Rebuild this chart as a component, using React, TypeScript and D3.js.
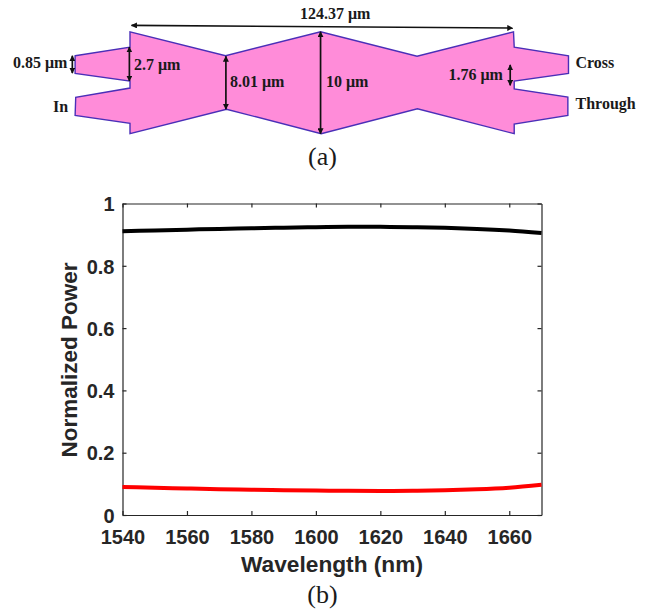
import React, { useEffect, useRef } from "react";
import * as d3 from "d3";

// spectrum
const wavelengths = [1540, 1550, 1560, 1570, 1580, 1590, 1600, 1610, 1620, 1630, 1640, 1650, 1660, 1670];
const crossPower = [0.911, 0.9135, 0.916, 0.9185, 0.9205, 0.9225, 0.924, 0.925, 0.925, 0.924, 0.922, 0.9185, 0.913, 0.905];
const throughPower = [0.09, 0.0875, 0.085, 0.083, 0.0812, 0.0797, 0.0785, 0.0775, 0.0772, 0.0778, 0.0795, 0.0825, 0.0875, 0.097];
const xTicks = [1540, 1560, 1580, 1600, 1620, 1640, 1660];
const yTicks = [0, 0.2, 0.4, 0.6, 0.8, 1];

// device outline for panel (a): [length um, schematic height]
const outline: [number, number][] = [
  [-17.8, -2.65], [0, -3.5], [0, -5], [31, -2.65], [61.8, -5], [93.1, -2.6], [124.37, -5],
  [124.6, -3.5], [142.2, -2.65], [142.2, -0.92], [124.6, -0.17], [124.6, 0.6], [142, 1.4],
  [142, 3.2], [124.6, 4.05], [124.6, 5], [93.2, 2.55], [62, 5], [31.3, 2.6], [0, 5], [0, 3.98],
  [-17.8, 3.2], [-17.6, 1.43], [0, 0.52], [0, -0.17], [-17.8, -0.92],
];
// [x1, y1, x2, y2] in the same units
const dimensions: [number, number, number, number][] = [
  [0.5, -5.63, 124.1, -5.37],
  [-18.7, -2.65, -18.7, -0.95],
  [-0.2, -3.5, -0.2, -0.17],
  [31.1, -2.6, 31.1, 2.6],
  [61.8, -5, 61.8, 5],
  [123.3, -1.75, 123.3, 0.25],
];
const deviceLabels: [string, number, number][] = [
  ["124.37 μm", 300, 19],
  ["0.85 μm", 13, 68],
  ["2.7 μm", 134, 70],
  ["8.01 μm", 230, 87],
  ["10 μm", 326, 87],
  ["1.76 μm", 448.5, 80],
  ["In", 53, 112],
  ["Cross", 575.5, 68],
  ["Through", 575.5, 109],
];

const width = 649,
  height = 609;
const plot = { left: 122.5, right: 541.5, top: 203.5, bottom: 515 };

export default function App() {
  const svgRef = useRef<SVGSVGElement>(null);

  useEffect(() => {
    const svg = d3.select(svgRef.current);
    svg.selectAll("*").remove();

    // panel (a)
    const ux = d3.scaleLinear().domain([0, 124.37]).range([130, 513.5]);
    const uy = d3.scaleLinear().domain([-5, 5]).range([31.8, 133.7]);

    const defs = svg.append("defs");
    ["start", "end"].forEach((kind) => {
      defs
        .append("marker")
        .attr("id", "arrow-" + kind)
        .attr("viewBox", "0 0 10 10")
        .attr("refX", kind === "end" ? 9 : 1)
        .attr("refY", 5)
        .attr("markerUnits", "userSpaceOnUse")
        .attr("markerWidth", 6)
        .attr("markerHeight", 6)
        .attr("orient", "auto")
        .append("path")
        .attr("d", kind === "end" ? "M0,0L10,5L0,10Z" : "M10,0L0,5L10,10Z")
        .attr("fill", "#111");
    });

    const outlinePath = d3
      .line<[number, number]>()
      .x((d) => ux(d[0]))
      .y((d) => uy(d[1]));

    svg
      .append("path")
      .attr("d", outlinePath(outline) + "Z")
      .attr("fill", "#ff8cd9")
      .attr("stroke", "#4a2fb8")
      .attr("stroke-width", 1.4)
      .attr("stroke-linejoin", "miter");

    svg
      .selectAll(".dim")
      .data(dimensions)
      .join("line")
      .attr("class", "dim")
      .attr("x1", (d) => ux(d[0]))
      .attr("y1", (d) => uy(d[1]))
      .attr("x2", (d) => ux(d[2]))
      .attr("y2", (d) => uy(d[3]))
      .attr("stroke", "#111")
      .attr("stroke-width", 1.7)
      .attr("marker-start", "url(#arrow-start)")
      .attr("marker-end", "url(#arrow-end)");

    svg
      .selectAll(".device-label")
      .data(deviceLabels)
      .join("text")
      .attr("class", "device-label")
      .attr("x", (d) => d[1])
      .attr("y", (d) => d[2])
      .attr("font-family", "'Liberation Serif', serif")
      .attr("font-weight", "bold")
      .attr("font-size", 16)
      .attr("fill", "#1a1a1a")
      .text((d) => d[0]);

    svg
      .selectAll(".panel-label")
      .data([
        ["(a)", 165],
        ["(b)", 603],
      ])
      .join("text")
      .attr("class", "panel-label")
      .attr("x", 322.5)
      .attr("y", (d) => d[1])
      .attr("text-anchor", "middle")
      .attr("font-family", "'Liberation Serif', serif")
      .attr("font-size", 26)
      .attr("fill", "#1a1a1a")
      .text((d) => d[0]);

    // panel (b)
    const x = d3.scaleLinear().domain([1540, 1670]).range([plot.left, plot.right]);
    const y = d3.scaleLinear().domain([0, 1]).range([plot.bottom, plot.top]);

    const styleAxis = (g: any) => {
      g.selectAll("path").attr("stroke", "#262626").attr("stroke-width", 1.2);
      g.selectAll("line").attr("stroke", "#262626").attr("stroke-width", 1.2);
      g.selectAll("text")
        .attr("font-family", "'Liberation Sans', Arial, sans-serif")
        .attr("font-weight", "bold")
        .attr("font-size", 20)
        .attr("fill", "#262626");
    };

    svg
      .append("g")
      .attr("transform", `translate(0,${plot.bottom})`)
      .call(d3.axisBottom(x).tickValues(xTicks).tickFormat(d3.format("d")).tickSizeInner(-4).tickSizeOuter(0).tickPadding(15))
      .call(styleAxis);
    svg
      .append("g")
      .attr("transform", `translate(0,${plot.top})`)
      .call(d3.axisTop(x).tickValues(xTicks).tickFormat(() => "").tickSizeInner(-4).tickSizeOuter(0))
      .call(styleAxis);
    svg
      .append("g")
      .attr("transform", `translate(${plot.left},0)`)
      .call(d3.axisLeft(y).tickValues(yTicks).tickFormat(d3.format("~g")).tickSizeInner(-4).tickSizeOuter(0).tickPadding(8))
      .call(styleAxis)
      .call((g: any) => g.selectAll("text").attr("dy", "0.36em"));
    svg
      .append("g")
      .attr("transform", `translate(${plot.right},0)`)
      .call(d3.axisRight(y).tickValues(yTicks).tickFormat(() => "").tickSizeInner(-4).tickSizeOuter(0))
      .call(styleAxis);

    const curve = d3
      .line<number>()
      .x((_, i) => x(wavelengths[i]))
      .y((d) => y(d))
      .curve(d3.curveNatural);

    svg
      .selectAll(".series")
      .data([
        { values: crossPower, color: "#000000" },
        { values: throughPower, color: "#ff0000" },
      ])
      .join("path")
      .attr("class", "series")
      .attr("d", (d) => curve(d.values))
      .attr("fill", "none")
      .attr("stroke", (d) => d.color)
      .attr("stroke-width", 4);

    svg
      .append("text")
      .attr("x", 332)
      .attr("y", 572)
      .attr("text-anchor", "middle")
      .attr("font-family", "'Liberation Sans', Arial, sans-serif")
      .attr("font-weight", "bold")
      .attr("font-size", 22.7)
      .attr("fill", "#262626")
      .text("Wavelength (nm)");

    svg
      .append("text")
      .attr("transform", "translate(76.5,360) rotate(-90)")
      .attr("text-anchor", "middle")
      .attr("font-family", "'Liberation Sans', Arial, sans-serif")
      .attr("font-weight", "bold")
      .attr("font-size", 22.5)
      .attr("fill", "#262626")
      .text("Normalized Power");
  }, []);

  return (
    <svg
      ref={svgRef}
      width={width}
      height={height}
      style={{ position: "absolute", left: 0, top: 0, background: "#fff" }}
    />
  );
}
